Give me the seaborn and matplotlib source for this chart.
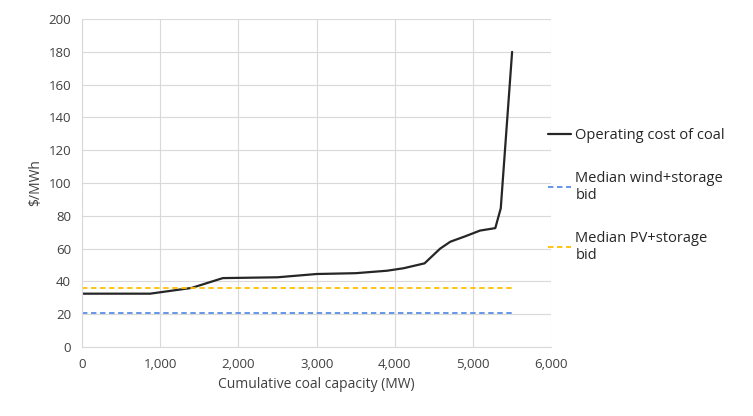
import numpy as np
import pandas as pd
import seaborn as sns
import matplotlib.pyplot as plt

# coal supply curve
capacidad = [0, 870, 1400, 1800, 2500, 3000, 3500, 3900, 4110, 4380, 4580, 4710, 4900, 5090, 5285, 5355, 5500]
costo = [32.5, 32.5, 36, 42, 42.5, 44.5, 45, 46.5, 48, 51, 60, 64.2, 67.5, 71, 72.5, 84.6, 180]

# median bids (flat lines)
bid_x = [0, 5500]
wind_bid = [21, 21]
pv_bid = [36, 36]

sns.set_style("whitegrid", {"grid.color": "#d9d9d9", "axes.edgecolor": "#d9d9d9"})
plt.rcParams["font.family"] = ["Open Sans", "DejaVu Sans"]

fig = plt.figure(figsize=(7.53, 4.16), dpi=100)
ax = fig.add_axes([0.109, 0.166, 0.623, 0.788])

sns.lineplot(x=capacidad, y=costo, ax=ax, color="#262626", lw=1.6,
             label="Operating cost of coal")
sns.lineplot(x=bid_x, y=wind_bid, ax=ax, color="#5b8ee6", lw=1.3,
             linestyle=(0, (3, 2)), label="Median wind+storage\nbid")
sns.lineplot(x=bid_x, y=pv_bid, ax=ax, color="#ffc000", lw=1.3,
             linestyle=(0, (3, 2)), label="Median PV+storage\nbid")

ax.set_xlim(0, 6000)
ax.set_ylim(0, 200)
ax.set_xticks(np.arange(0, 6001, 1000))
ax.set_yticks(np.arange(0, 201, 20))
ax.set_xticklabels([f"{v:,}" for v in range(0, 6001, 1000)])
ax.tick_params(labelsize=9.5, colors="#404040", length=0, pad=8)
ax.set_xlabel("Cumulative coal capacity (MW)", fontsize=10, color="#404040")
ax.set_ylabel("$/MWh", fontsize=10, color="#404040")
for s in ["top", "right"]:
    ax.spines[s].set_visible(False)

ax.legend_.remove()
h, l = ax.get_legend_handles_labels()
fig.legend(h, l, loc="center left", bbox_to_anchor=(0.71, 0.53), frameon=False,
           fontsize=10.5, handlelength=1.6, handletextpad=0.3, labelspacing=1.9,
           labelcolor="#262626")

fig.savefig("out.png", dpi=100)
